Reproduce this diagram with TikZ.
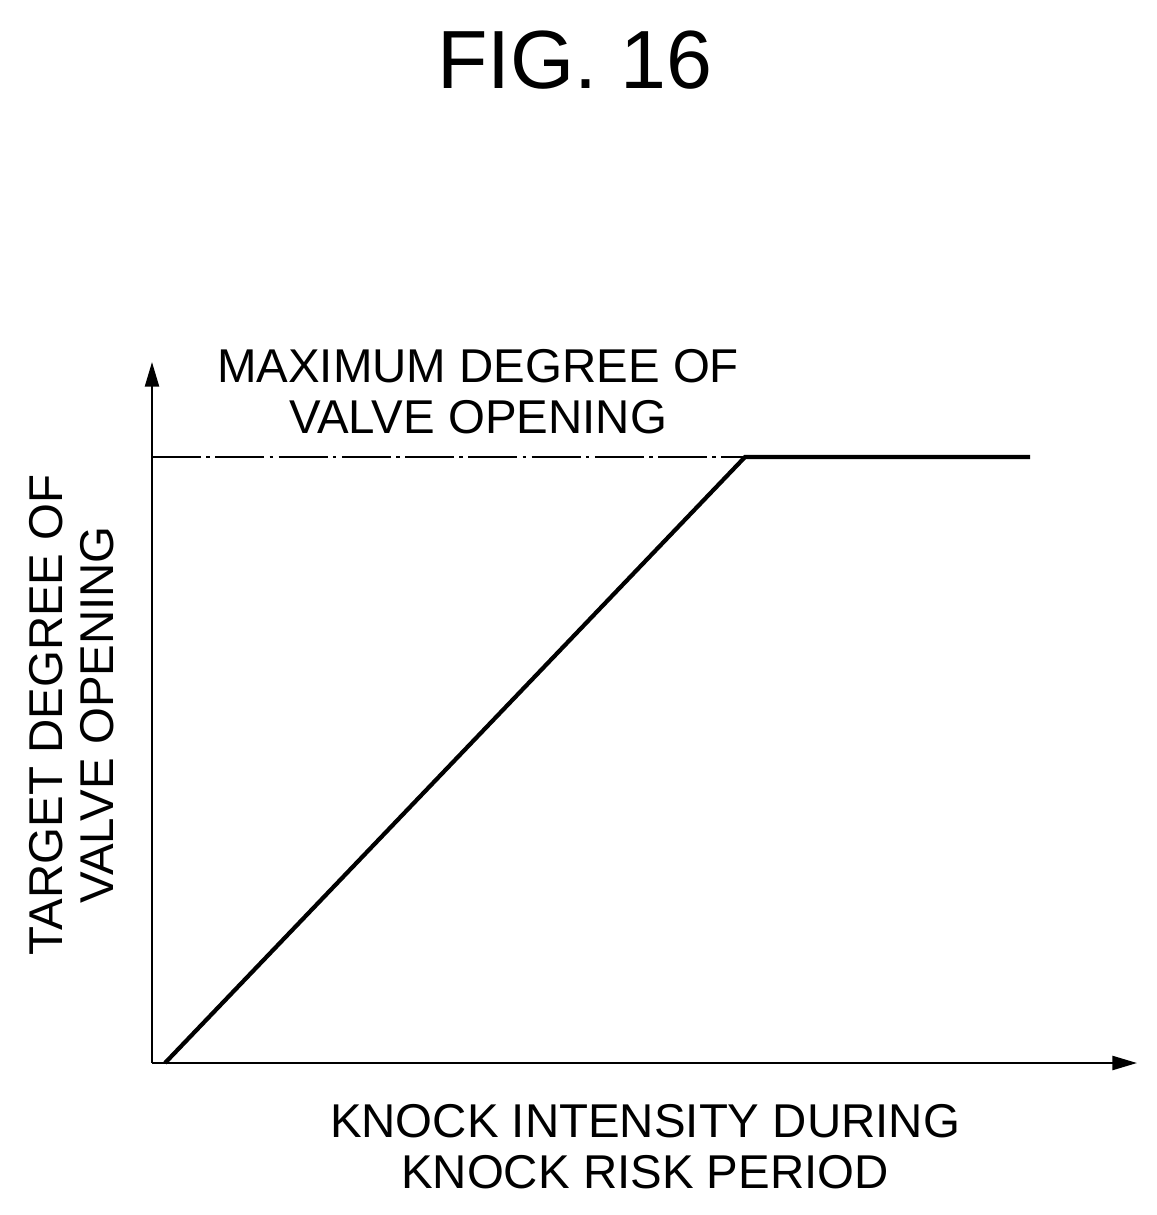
\documentclass[tikz,border=0pt]{standalone}
\usepackage{fontspec}
\setmainfont{Liberation Sans}
\usetikzlibrary{arrows.meta}
\begin{document}
\begin{tikzpicture}[x=0.02cm,y=-0.02cm]
		\useasboundingbox (0,0) rectangle (1157,1215);
		\tikzset{lbl/.style={align=center,font=\fontsize{27}{29}\selectfont}}
		%title
		\node[font=\fontsize{47}{50}\selectfont](title) at (575,60) {FIG. 16};
		%axes
		\coordinate (o) at (152,1063);
		\coordinate (ytop) at (152,362);
		\coordinate (xend) at (1137,1063);
		\draw[line width=1.2pt,-{Triangle[length=14pt,width=8pt]}] (o) -- (ytop);
		\draw[line width=1.2pt,-{Triangle[length=14pt,width=8pt]}] (o) -- (xend);
		%maximum line
		\coordinate (m0) at (152,457);
		\coordinate (knee) at (745,457);
		\coordinate (m1) at (1030,457);
		\draw[line width=1pt,dash pattern=on 28pt off 3pt on 2pt off 3pt] (m0) -- (knee);
		\draw[line width=2.4pt] (165,1063) -- (knee) -- (m1);
		%labels
		\node[lbl](maxlbl) at (478,392) {MAXIMUM DEGREE OF\\VALVE OPENING};
		\node[lbl,rotate=90](ylbl) at (72,715) {TARGET DEGREE OF\\VALVE OPENING};
		\node[lbl](xlbl) at (645,1147) {KNOCK INTENSITY DURING\\KNOCK RISK PERIOD};
\end{tikzpicture}
\end{document}
